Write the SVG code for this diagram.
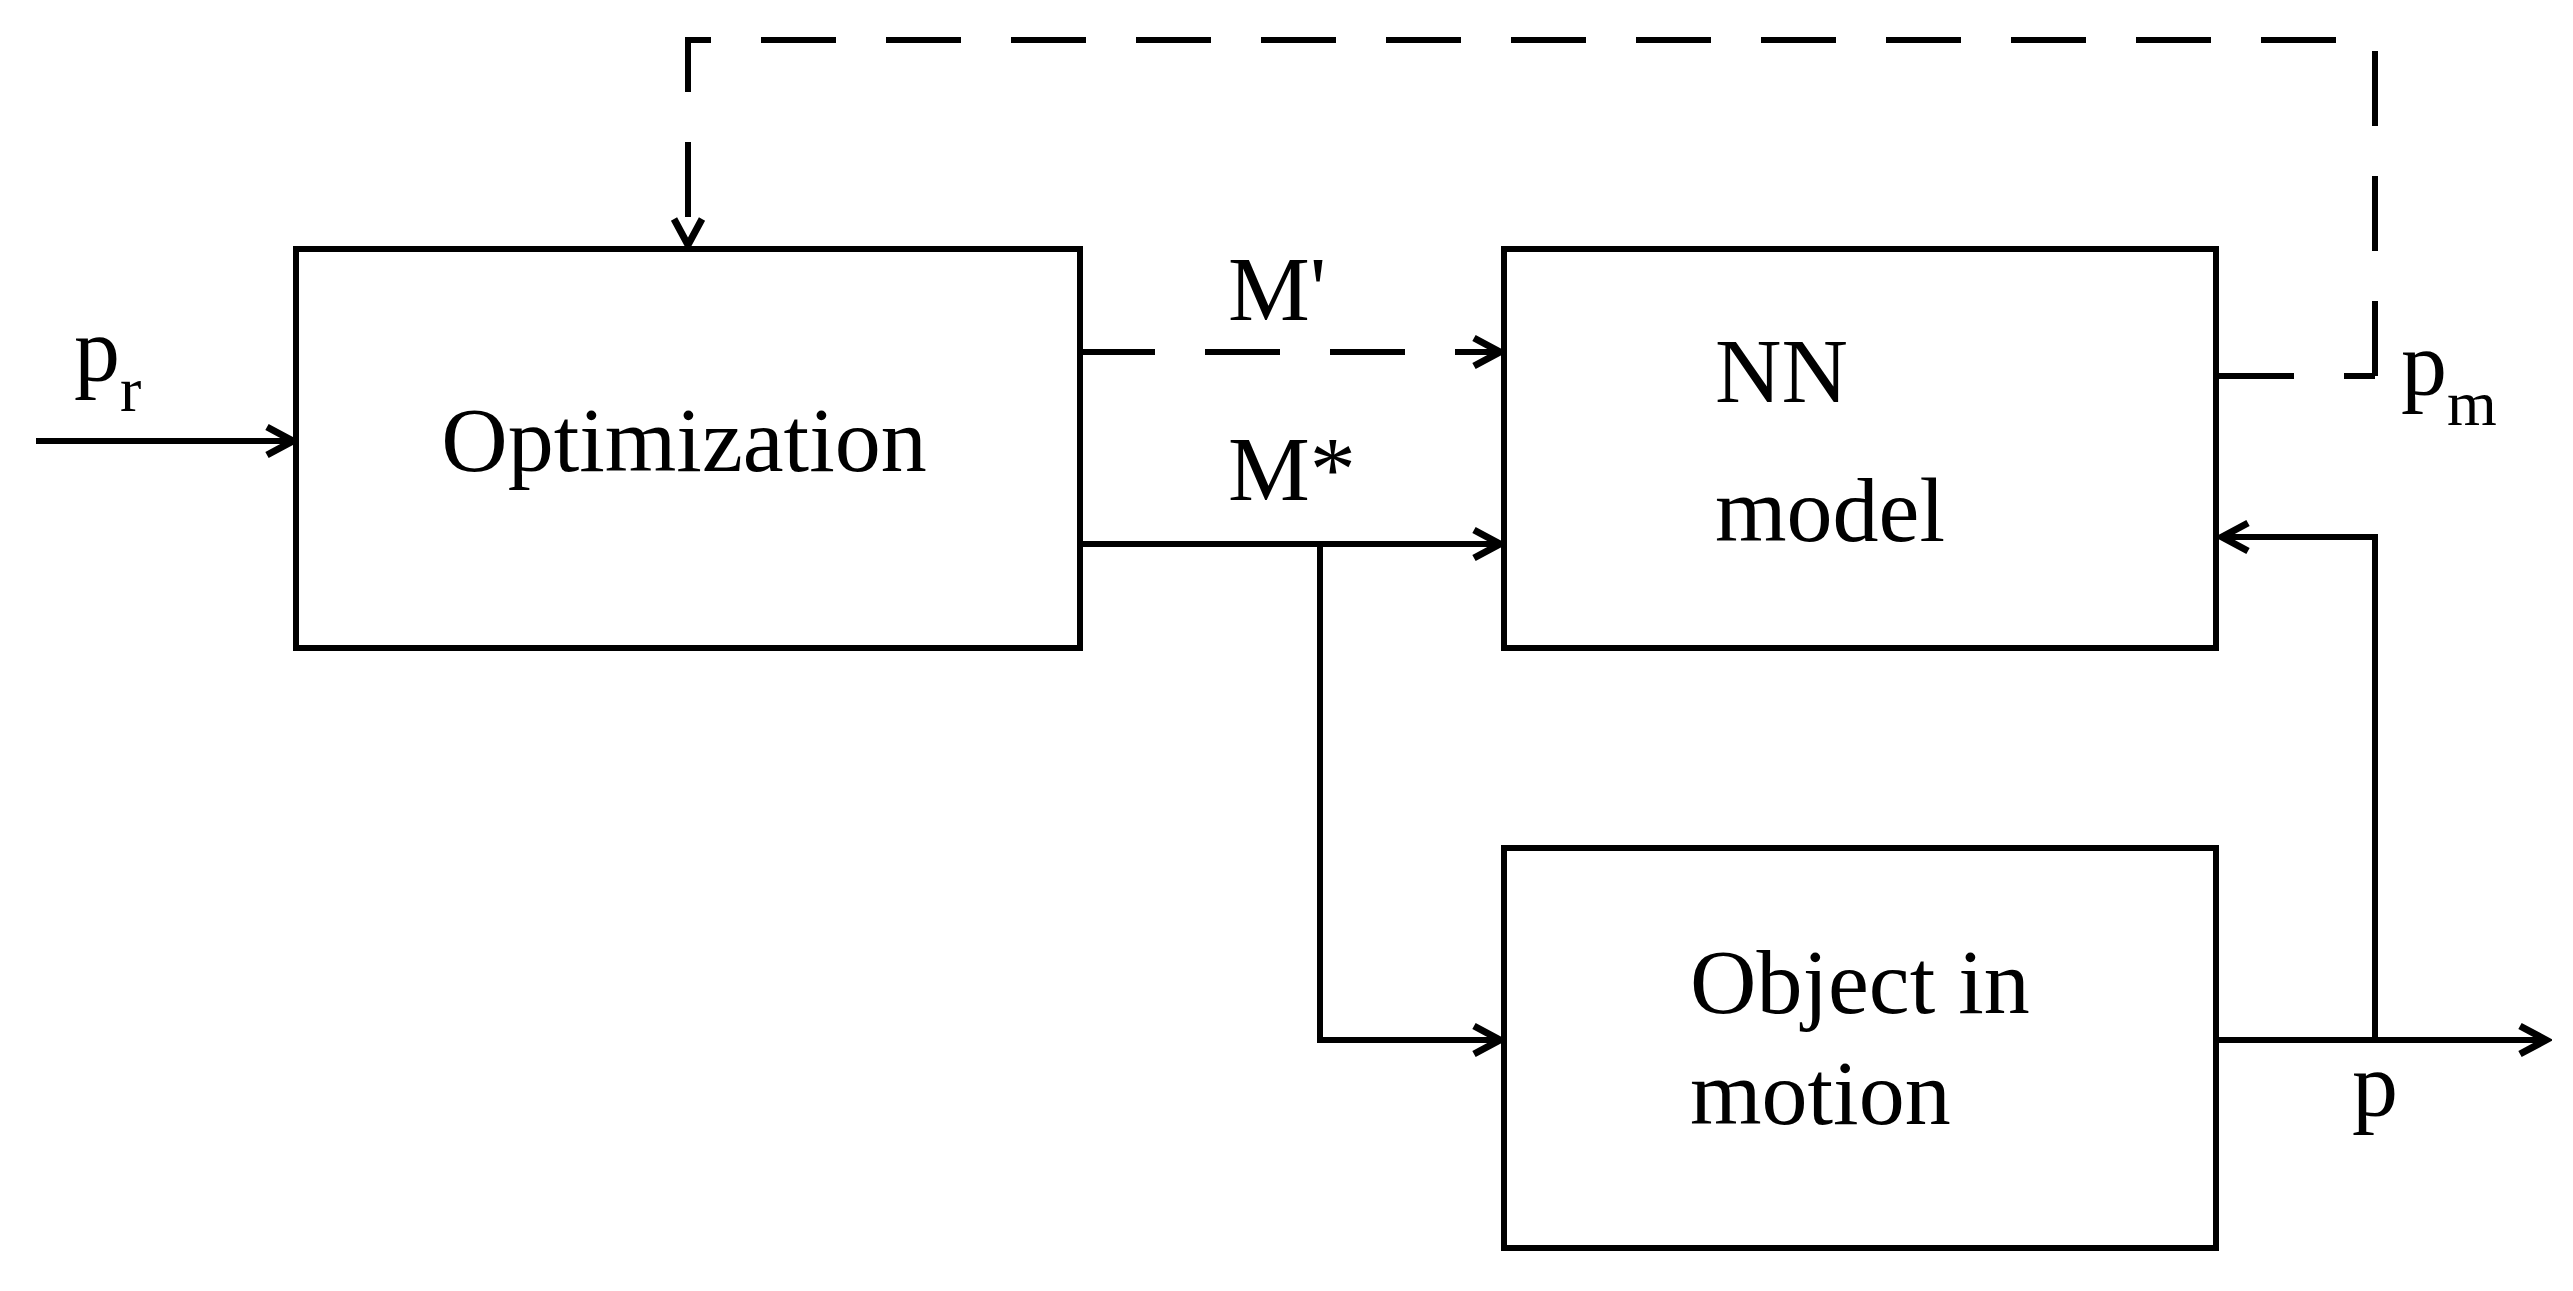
<svg xmlns="http://www.w3.org/2000/svg" width="2573" height="1291" viewBox="0 0 2573 1291">
<style>
.b{fill:#fff;stroke:#000;stroke-width:6}
.l{fill:none;stroke:#000;stroke-width:6}
.d{stroke-dasharray:75 50}
text{font-family:"Liberation Serif","DejaVu Serif",serif;font-size:92px;fill:#000}
.s{font-size:64px}
</style>
<defs>
<marker id="a" markerWidth="36" markerHeight="36" refX="30" refY="18" orient="auto" markerUnits="userSpaceOnUse" viewBox="0 0 36 36">
<path d="M4,4 L30,18 L4,32" fill="none" stroke="#000" stroke-width="7"/>
</marker>
</defs>
<rect width="2573" height="1291" fill="#fff"/>
<g id="connectors">
<path class="l" d="M36,441 H293" marker-end="url(#a)"/>
<path class="l d" d="M2375,376 V40 H688 V245" marker-end="url(#a)"/>
<path class="l d" d="M2219,376 H2375"/>
<path class="l d" d="M1080,352 H1500" marker-end="url(#a)"/>
<path class="l" d="M1080,544 H1500" marker-end="url(#a)"/>
<path class="l" d="M1320,544 V1040 H1500" marker-end="url(#a)"/>
<path class="l" d="M2219,1040 H2546" marker-end="url(#a)"/>
<path class="l" d="M2375,1040 V537 H2222" marker-end="url(#a)"/>
</g>
<g id="optimization"><rect class="b" x="296" y="249" width="784" height="399"/><text x="684" y="471" text-anchor="middle">Optimization</text></g>
<g id="nn"><rect class="b" x="1504" y="249" width="712" height="399"/><text x="1715" y="402">NN</text><text x="1715" y="541">model</text></g>
<g id="object"><rect class="b" x="1504" y="848" width="712" height="400"/><text x="1690" y="1013">Object in</text><text x="1690" y="1124">motion</text></g>
<g id="labels">
<text x="74" y="381">p<tspan class="s" dy="30">r</tspan></text>
<text x="1228" y="320">M'</text>
<text x="1228" y="500">M*</text>
<text x="2401" y="395">p<tspan class="s" dy="30">m</tspan></text>
<text x="2352" y="1116">p</text>
</g>
</svg>
